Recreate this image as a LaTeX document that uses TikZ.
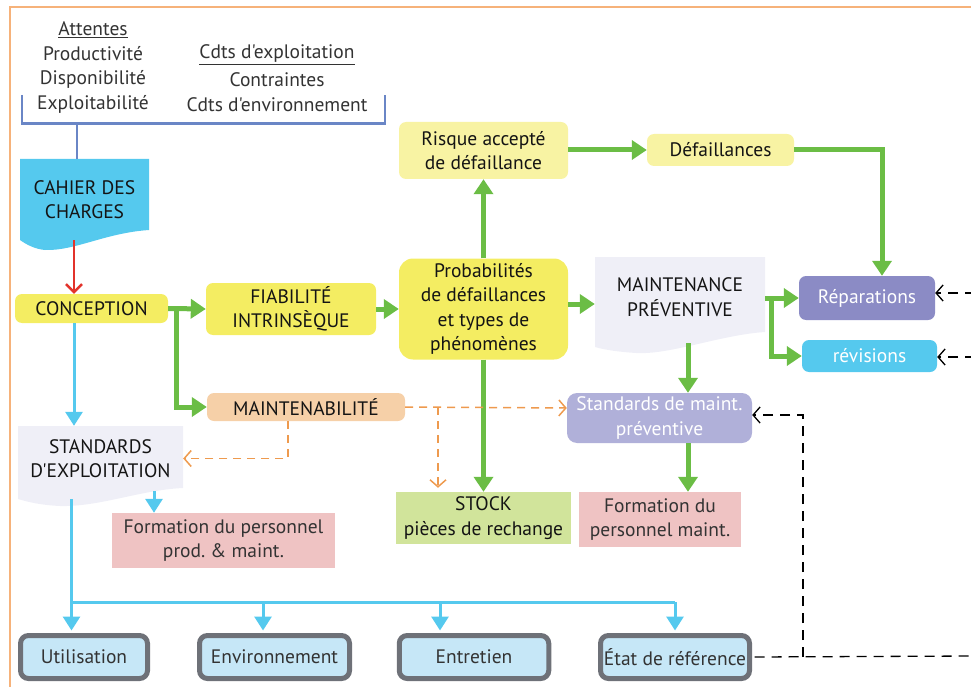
\documentclass[tikz,border=0pt]{standalone}
\usepackage{fontspec}
\setmainfont{PT Sans}[Ligatures=TeXOff]
\usetikzlibrary{arrows.meta}
\frenchspacing
\definecolor{yel}{HTML}{F4ED62}
\definecolor{lyel}{HTML}{F8F3A3}
\definecolor{peach}{HTML}{F6D0A8}
\definecolor{pur}{HTML}{8B8BC5}
\definecolor{lpur}{HTML}{B0B0D9}
\definecolor{cy}{HTML}{55C9EE}
\definecolor{pinkb}{HTML}{EFC3C3}
\definecolor{lgreen}{HTML}{D1E49B}
\definecolor{docgray}{HTML}{EFEFF7}
\definecolor{lblue}{HTML}{C6E7F7}
\definecolor{bord}{HTML}{6E7178}
\definecolor{gr}{HTML}{6BBD45}
\definecolor{redl}{HTML}{E2332B}
\definecolor{ora}{HTML}{EE9A4E}
\definecolor{frame}{HTML}{F6B27A}
\definecolor{brk}{HTML}{6A86C6}
\definecolor{txt}{HTML}{141414}
\definecolor{gtxt}{HTML}{333333}
\begin{document}
\begin{tikzpicture}[x=1pt,y=-1pt,
  font=\fontsize{19.5}{24.5}\selectfont\frenchspacing,
  every node/.style={inner sep=0pt, align=center, text=txt},
  box/.style={rounded corners=7pt},
  ybox/.style={box, fill=yel},
  lybox/.style={box, fill=lyel},
  bbox/.style={draw=bord, line width=5pt, fill=lblue, rounded corners=8pt, minimum height=43, text=gtxt},
  garrow/.style={draw=gr, line width=5pt, -{Triangle[width=19pt,length=15pt]}},
  gline/.style={draw=gr, line width=5pt},
  carrow/.style={draw=cy, line width=3pt, -{Triangle[width=17pt,length=14pt]}},
  cline/.style={draw=cy, line width=3pt},
  oarrow/.style={draw=ora, line width=1.5pt, dash pattern=on 8pt off 6pt, -{Straight Barb[length=7pt,width=16pt]}},
  oline/.style={draw=ora, line width=1.5pt, dash pattern=on 8pt off 6pt},
  karrow/.style={draw=black, line width=1.3pt, dash pattern=on 10pt off 7pt, -{Straight Barb[length=7pt,width=16pt]}},
  kline/.style={draw=black, line width=1.3pt, dash pattern=on 10pt off 7pt},
]
\useasboundingbox (0,0) rectangle (971,687);
% frame
\draw[frame, line width=1.5pt] (10,690) -- (10,7) -- (975,7);

% top texts
\node[text=gtxt] (att) at (93,30) {\underline{Attentes}};
\node[text=gtxt] (att1) at (93,54) {Productivité};
\node[text=gtxt] (att2) at (93,79) {Disponibilité};
\node[text=gtxt] (att3) at (93,104) {Exploitabilité};
\node[text=gtxt] (cdt) at (277,55) {\underline{Cdts d'exploitation}};
\node[text=gtxt] (cdt1) at (277,80) {Contraintes};
\node[text=gtxt] (cdt2) at (277,105) {Cdts d'environnement};
\draw[brk, line width=2.5pt] (22,95) -- (22,123.5) -- (385,123.5) -- (385,95);

% document shapes
\fill[cy] (20,159) -- (149,159) -- (149,230) .. controls (105,233) and (75,251) .. (45,250) .. controls (35,249) and (27,245) .. (20,240) -- cycle;
\fill[docgray] (595,257) -- (765,257) -- (765,332) .. controls (720,335) and (670,355) .. (636,353) .. controls (620,352) and (605,350) .. (595,347) -- cycle;
\fill[docgray] (18,426) -- (183,426) -- (183,488) .. controls (140,490) and (100,507) .. (60,506) .. controls (40,505) and (28,502) .. (18,499) -- cycle;

\node[minimum width=129, minimum height=81] (cahier) at (84.5,199.5) {CAHIER DES\\CHARGES};
\node[minimum width=170, minimum height=80] (mp) at (680,297) {MAINTENANCE\\PRÉVENTIVE};
\node[minimum width=165, minimum height=65] (stdex) at (100.5,458.5) {STANDARDS\\D'EXPLOITATION};

% boxes
\node[ybox, minimum width=153, minimum height=29] (conc) at (91.5,308.5) {CONCEPTION};
\node[ybox, minimum width=170, minimum height=52] (fiab) at (291,309) {FIABILITÉ\\INTRINSÈQUE};
\node[box, fill=peach, minimum width=198, minimum height=28] (maintb) at (306,407) {MAINTENABILITÉ};
\node[ybox, rounded corners=14pt, minimum width=169, minimum height=101] (proba) at (483.5,309) {Probabilités\\de défaillances\\et types de\\phénomènes};
\node[lybox, minimum width=169, minimum height=57] (risque) at (483.5,150.5) {Risque accepté\\de défaillance};
\node[lybox, minimum width=147, minimum height=32] (defa) at (720.5,150) {Défaillances};
\node[box, fill=pur, text=white, minimum width=136, minimum height=44] (rep) at (867,298) {Réparations};
\node[box, fill=cy, text=white, minimum width=135, minimum height=32] (rev) at (869.5,356) {révisions};
\node[box, rounded corners=10pt, fill=lpur, text=white, minimum width=185, minimum height=50] (smp) at (659.5,418) {Standards de maint.\\préventive};
\node[fill=pinkb, text=gtxt, minimum width=223, minimum height=55] (form1) at (223.5,540.5) {Formation du personnel\\prod. \& maint.};
\node[fill=lgreen, minimum width=175, minimum height=52] (stock) at (483.5,518) {STOCK\\pièces de rechange};
\node[fill=pinkb, text=gtxt, minimum width=162, minimum height=55] (form2) at (660,519.5) {Formation du\\personnel maint.};
\node[bbox, minimum width=127] (util) at (84,657) {Utilisation};
\node[bbox, minimum width=150] (env) at (274.5,657) {Environnement};
\node[bbox, minimum width=149.5] (entr) at (474,657) {Entretien};
\node[bbox, minimum width=149] (etat) at (675,657) {État de référence};

% coordinates
\coordinate (xs) at (77,0);
\coordinate (xr) at (74,0);
\coordinate (xg) at (688,0);
\coordinate (xf) at (154,0);
\coordinate (xo) at (288,0);
\coordinate (xb) at (438,0);
\coordinate (xk) at (803,0);
\coordinate (t1) at (71.5,602);
\coordinate (t2) at (263,602);
\coordinate (t3) at (440,602);
\coordinate (t4) at (675,602);
\coordinate (re1) at (975,293);
\coordinate (re2) at (975,357);
\coordinate (re3) at (975,656);

% bracket stem and red arrow
\draw[brk, line width=2.5pt] (xs |- 0,123.5) -- (cahier.north -| xs);
\draw[redl, line width=2.5pt, -{Straight Barb[length=8pt,width=16pt]}] (cahier.south -| xr) -- (conc.north -| xr);

% green
\draw[garrow] (conc.east) -- (fiab.west);
\draw[garrow] ([xshift=8pt]conc.east) |- (maintb.west);
\draw[garrow] (fiab.east) -- (fiab.east -| proba.west);
\draw[garrow] (proba.north) -- (risque.south);
\draw[garrow] (risque.east |- defa.west) -- (defa.west);
\draw[garrow] (defa.east) -| ([xshift=15pt]rep.north);
\draw[garrow] ([yshift=5pt]proba.east) -- ([yshift=5pt]proba.east -| mp.west);
\draw[garrow] (mp.east |- rep.west) -- (rep.west);
\draw[garrow] ([xshift=6pt]mp.east |- rep.west) |- (rev.west);
\draw[garrow] ([yshift=-6pt]mp.south -| xg) -- (smp.north -| xg);
\draw[garrow] (proba.south) -- (stock.north);
\draw[garrow] (smp.south -| xg) -- (form2.north -| xg);

% cyan
\draw[carrow] (conc.south -| xr) -- (stdex.north -| xr);
\draw[carrow] (stdex.south -| xf) -- (form1.north -| xf);
\draw[cline] ([yshift=-8pt]stdex.south -| t1) -- (t1) -- (t4);
\draw[carrow] (t1) -- ([yshift=2.5pt]util.north -| t1);
\draw[carrow] (t2) -- ([yshift=2.5pt]env.north -| t2);
\draw[carrow] (t3) -- ([yshift=2.5pt]entr.north -| t3);
\draw[carrow] (t4) -- ([yshift=2.5pt]etat.north -| t4);

% orange dashed
\draw[oarrow] (maintb.east) -- ([yshift=10pt]smp.west);
\draw[oarrow] (xb |- maintb.east) -- ([yshift=4pt]stock.north -| xb);
\draw[oarrow] (maintb.south -| xo) |- (stdex.east);

% black dashed
\draw[karrow] (re1) -- (re1 -| rep.east);
\draw[karrow] (re2) -- (re2 -| rev.east);
\draw[kline] ([xshift=2.5pt]etat.east) -- (re3);
\draw[karrow] (xk |- etat.east) |- ([yshift=3pt]smp.east);
\end{tikzpicture}
\end{document}
